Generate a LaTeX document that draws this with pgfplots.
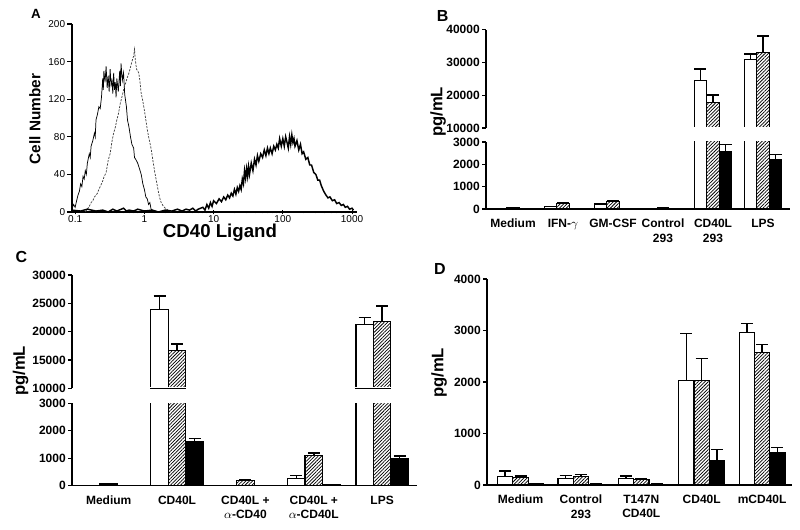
\documentclass[border=0pt]{standalone}
\usepackage{pgfplots}
\pgfplotsset{compat=1.18}
\usepackage{pgfplotstable}
\usepackage{fontspec}
\setmainfont{Liberation Sans}
\usetikzlibrary{patterns.meta}

\pgfplotstableread{
x w we h he b be
0 20 10 50 15 10 0
1 100 20 250 30 20 0
2 200 30 330 50 20 0
3 20 10 40 10 10 0
4 24400 3600 17800 2200 2560 330
5 30800 1800 33100 5000 2230 210
}\dataB

\pgfplotstableread{
x w we h he b be
0 10 0 60 15 10 0
1 23900 2350 16600 1200 1600 120
2 0 0 190 30 10 0
3 270 95 1090 110 30 0
4 21250 1200 21850 2650 990 90
}\dataC

\pgfplotstableread{
x w we h he b be
0 170 100 150 25 20 0
1 120 65 170 35 15 0
2 120 55 105 25 15 0
3 2025 920 2025 435 470 220
4 2965 175 2575 155 625 100
}\dataD

\pgfplotsset{
  wbar/.style={fill=white, draw=black, line width=0.9pt},
  hbar/.style={draw=black, line width=0.9pt, pattern={Lines[angle=45, distance=1.8pt, line width=0.55pt]}},
  bbar/.style={fill=black, draw=black, line width=0.9pt},
  errs/.style={error bars/.cd, y dir=plus, y explicit,
    error bar style={line width=1.1pt, black},
    error mark options={rotate=90, line width=1.1pt, black, mark size=4.5pt}},
  barax/.style={scale only axis, anchor=south west,
    axis y line*=left, axis line style={line width=0.9pt,-},
    tick align=outside, major tick length=3pt,
    ytick style={line width=0.9pt, black},
    tick label style={font=\fontsize{9}{11}\selectfont\bfseries},
    yticklabel style={inner sep=1.5pt},
    scaled y ticks=false,
    /pgf/number format/assume math mode=true,
    /pgf/number format/1000 sep={},
    ybar=0pt},
  lowax/.style={axis x line*=bottom, x tick style={draw=none},
    xtick=data, xticklabel style={align=center, yshift=-1pt}},
  upax/.style={axis x line=none, y filter/.expression={y<10000 ? nan : y}},
}

\newcommand{\threebars}[1]{%
  \addplot[wbar, errs] table[x=x, y=w, y error=we]{#1};
  \addplot[hbar, errs] table[x=x, y=h, y error=he]{#1};
  \addplot[bbar, errs] table[x=x, y=b, y error=be]{#1};
}
\newcommand{\hidebase}{%
  \fill[white] ([xshift=0.6pt]rel axis cs:0,0) rectangle ([yshift=0.7pt]rel axis cs:1,0);
}

\begin{document}
\begin{tikzpicture}
\path[use as bounding box] (0,0) rectangle (600pt,-397.5pt);

% ---------------- Panel A ----------------
\begin{axis}[scale only axis, anchor=south west, at={(54pt,-159pt)},
  width=213.75pt, height=141pt,
  xmode=log, xmin=0.09, xmax=1180, ymin=0, ymax=200,
  axis x line*=bottom, axis y line*=left, axis line style={line width=0.9pt,-},
  ytick={0,40,80,120,160,200},
  xtick={0.1,1,10,100,1000}, xticklabels={0.1,1,10,100,1000},
  minor xtick={0.2,0.3,0.4,0.5,0.6,0.7,0.8,0.9,2,3,4,5,6,7,8,9,20,30,40,50,60,70,80,90,200,300,400,500,600,700,800,900},
  y tick style={line width=0.8pt, black}, yticklabel style={inner sep=1.5pt},
  x tick style={line width=0.7pt, black},
  ytick align=outside, xtick align=center,
  major tick length=3.5pt, minor tick length=2.2pt,
  tick label style={font=\fontsize{7.5}{8}\selectfont},
  /pgf/number format/assume math mode=true,
  xticklabel style={inner sep=1pt},
  clip=false]
\addplot[black, line width=0.55pt] table {
0.09 3
0.095 8
0.1 5
0.105 12
0.11 18
0.115 22
0.12 30
0.125 27
0.13 38
0.135 35
0.14 44
0.145 40
0.15 52
0.16 62
0.165 58
0.17 70
0.18 76
0.19 84
0.195 80
0.2 98
0.21 104
0.22 112
0.23 110
0.24 122
0.25 142
0.255 130
0.26 150
0.27 138
0.28 155
0.29 132
0.3 145
0.31 128
0.32 152
0.33 135
0.34 140
0.35 126
0.36 148
0.37 130
0.38 138
0.39 122
0.40 142
0.42 128
0.44 150
0.45 134
0.46 158
0.48 140
0.5 148
0.52 125
0.55 112
0.57 98
0.6 90
0.63 80
0.66 72
0.7 68
0.72 58
0.75 56
0.8 52
0.85 46
0.9 40
0.95 30
1.0 24
1.05 16
1.1 14
1.15 8
1.2 10
1.25 3
1.3 2
1.4 0
};
\addplot[black!75, line width=0.55pt, dash pattern=on 1.6pt off 1pt] table {
0.14 0
0.15 3
0.16 6
0.17 10
0.18 12
0.19 16
0.2 18
0.21 20
0.22 24
0.23 27
0.24 30
0.25 33
0.26 37
0.28 42
0.3 55
0.32 62
0.34 75
0.36 84
0.38 90
0.4 98
0.42 104
0.45 116
0.48 124
0.5 130
0.53 136
0.56 142
0.6 148
0.63 154
0.66 160
0.7 166
0.72 173
0.74 162
0.77 152
0.8 150
0.83 148
0.86 140
0.9 126
0.95 118
1.0 108
1.05 98
1.1 88
1.15 80
1.2 74
1.26 66
1.32 56
1.4 44
1.5 32
1.58 23
1.65 16
1.75 10
1.85 7
2.0 4
2.2 2
2.5 0
};
\addplot[black, line width=1.1pt] table {
0.09 2
0.12 1
0.15 3
0.2 1
0.25 2
0.3 0
0.35 3
0.4 1
0.5 4
0.55 1
0.6 2
0.7 1
0.8 3
1 1
1.3 2
1.6 0
2 2
2.5 1
3 3
3.5 1
4 3
4.5 2
5 4
5.5 1
6 3
7 5
7.5 2
8 8
8.5 4
9 10
9.5 6
10 12
11 9
12 14
13 11
14 16
15 13
16 18
17 15
18 20
19 17
20 24
21 19
22 26
23 22
24 28
25 24
26 35
27 30
28 44
29 36
30 46
31 38
32 48
33 40
35 52
37 44
39 56
41 50
43 60
45 54
48 62
51 58
54 66
57 60
60 68
63 62
66 68
70 62
74 70
78 66
82 72
86 68
90 78
95 70
100 78
105 70
110 80
115 74
120 68
125 80
130 72
135 82
140 74
145 78
150 70
160 76
170 66
180 72
190 62
200 64
215 56
230 58
245 50
260 50
280 42
300 40
320 34
340 34
360 28
390 22
420 18
450 15
480 16
520 12
560 13
600 9
650 10
700 7
750 8
800 5
860 6
920 3
1000 4
1050 2
};
\end{axis}

% ---------------- Panel B ----------------
\begin{axis}[barax, lowax, at={(364.5pt,-156.75pt)}, width=228pt, height=50.25pt,
  xmin=-0.54, xmax=5.54, ymin=0, ymax=3000, ytick={0,1000,2000,3000},
  bar width=9.4pt,
  xticklabels={Medium, IFN-$\gamma$, GM-CSF, Control\\293, CD40L\\293, LPS}]
\threebars{\dataB}
\end{axis}
\begin{axis}[barax, upax, at={(364.5pt,-96pt)}, width=228pt, height=73.8pt,
  xmin=-0.54, xmax=5.54, ymin=10000, ymax=40000, ytick={10000,20000,30000,40000},
  bar width=9.4pt]
\threebars{\dataB}
\hidebase
\end{axis}

% ---------------- Panel C ----------------
\begin{axis}[barax, lowax, at={(54pt,-364.3pt)}, width=258.75pt, height=61.8pt,
  xmin=-0.537, xmax=4.51, ymin=0, ymax=3000, ytick={0,1000,2000,3000},
  bar width=13.1pt,
  xticklabels={Medium, CD40L, CD40L +\\{\mdseries$\alpha$}-CD40, CD40L +\\{\mdseries$\alpha$}-CD40L, LPS}]
\threebars{\dataC}
\end{axis}
\begin{axis}[barax, upax, at={(54pt,-291.2pt)}, width=258.75pt, height=85pt,
  xmin=-0.537, xmax=4.51, ymin=10000, ymax=30000, ytick={10000,15000,20000,25000,30000},
  bar width=13.1pt]
\threebars{\dataC}
\hidebase
\end{axis}

% ---------------- Panel D ----------------
\begin{axis}[barax, lowax, at={(365.25pt,-363.75pt)}, width=228.75pt, height=154.5pt,
  xmin=-0.555, xmax=4.495, ymin=0, ymax=4000, ytick={0,1000,2000,3000,4000},
  bar width=11.5pt,
  xticklabels={Medium, Control\\293, T147N\\CD40L, CD40L, mCD40L}]
\threebars{\dataD}
\end{axis}

% ---------------- Labels ----------------
\node[font=\fontsize{10}{10}\selectfont\bfseries] at (27pt,-10.1pt) {A};
\node[font=\fontsize{12}{12}\selectfont\bfseries] at (331.9pt,-12pt) {B};
\node[font=\fontsize{12}{12}\selectfont\bfseries] at (16.1pt,-193.1pt) {C};
\node[font=\fontsize{12}{12}\selectfont\bfseries] at (330pt,-202.1pt) {D};
\node[rotate=90, font=\fontsize{11.5}{12}\selectfont\bfseries] at (26.25pt,-89.25pt) {Cell Number};
\node[font=\fontsize{14}{14}\selectfont\bfseries] at (165pt,-174.75pt) {CD40 Ligand};
\node[rotate=90, font=\fontsize{12.5}{13}\selectfont\bfseries] at (328.6pt,-84pt) {pg/mL};
\node[rotate=90, font=\fontsize{12.5}{13}\selectfont\bfseries] at (15.4pt,-278.25pt) {pg/mL};
\node[rotate=90, font=\fontsize{12.5}{13}\selectfont\bfseries] at (329.3pt,-279.75pt) {pg/mL};
\end{tikzpicture}
\end{document}
